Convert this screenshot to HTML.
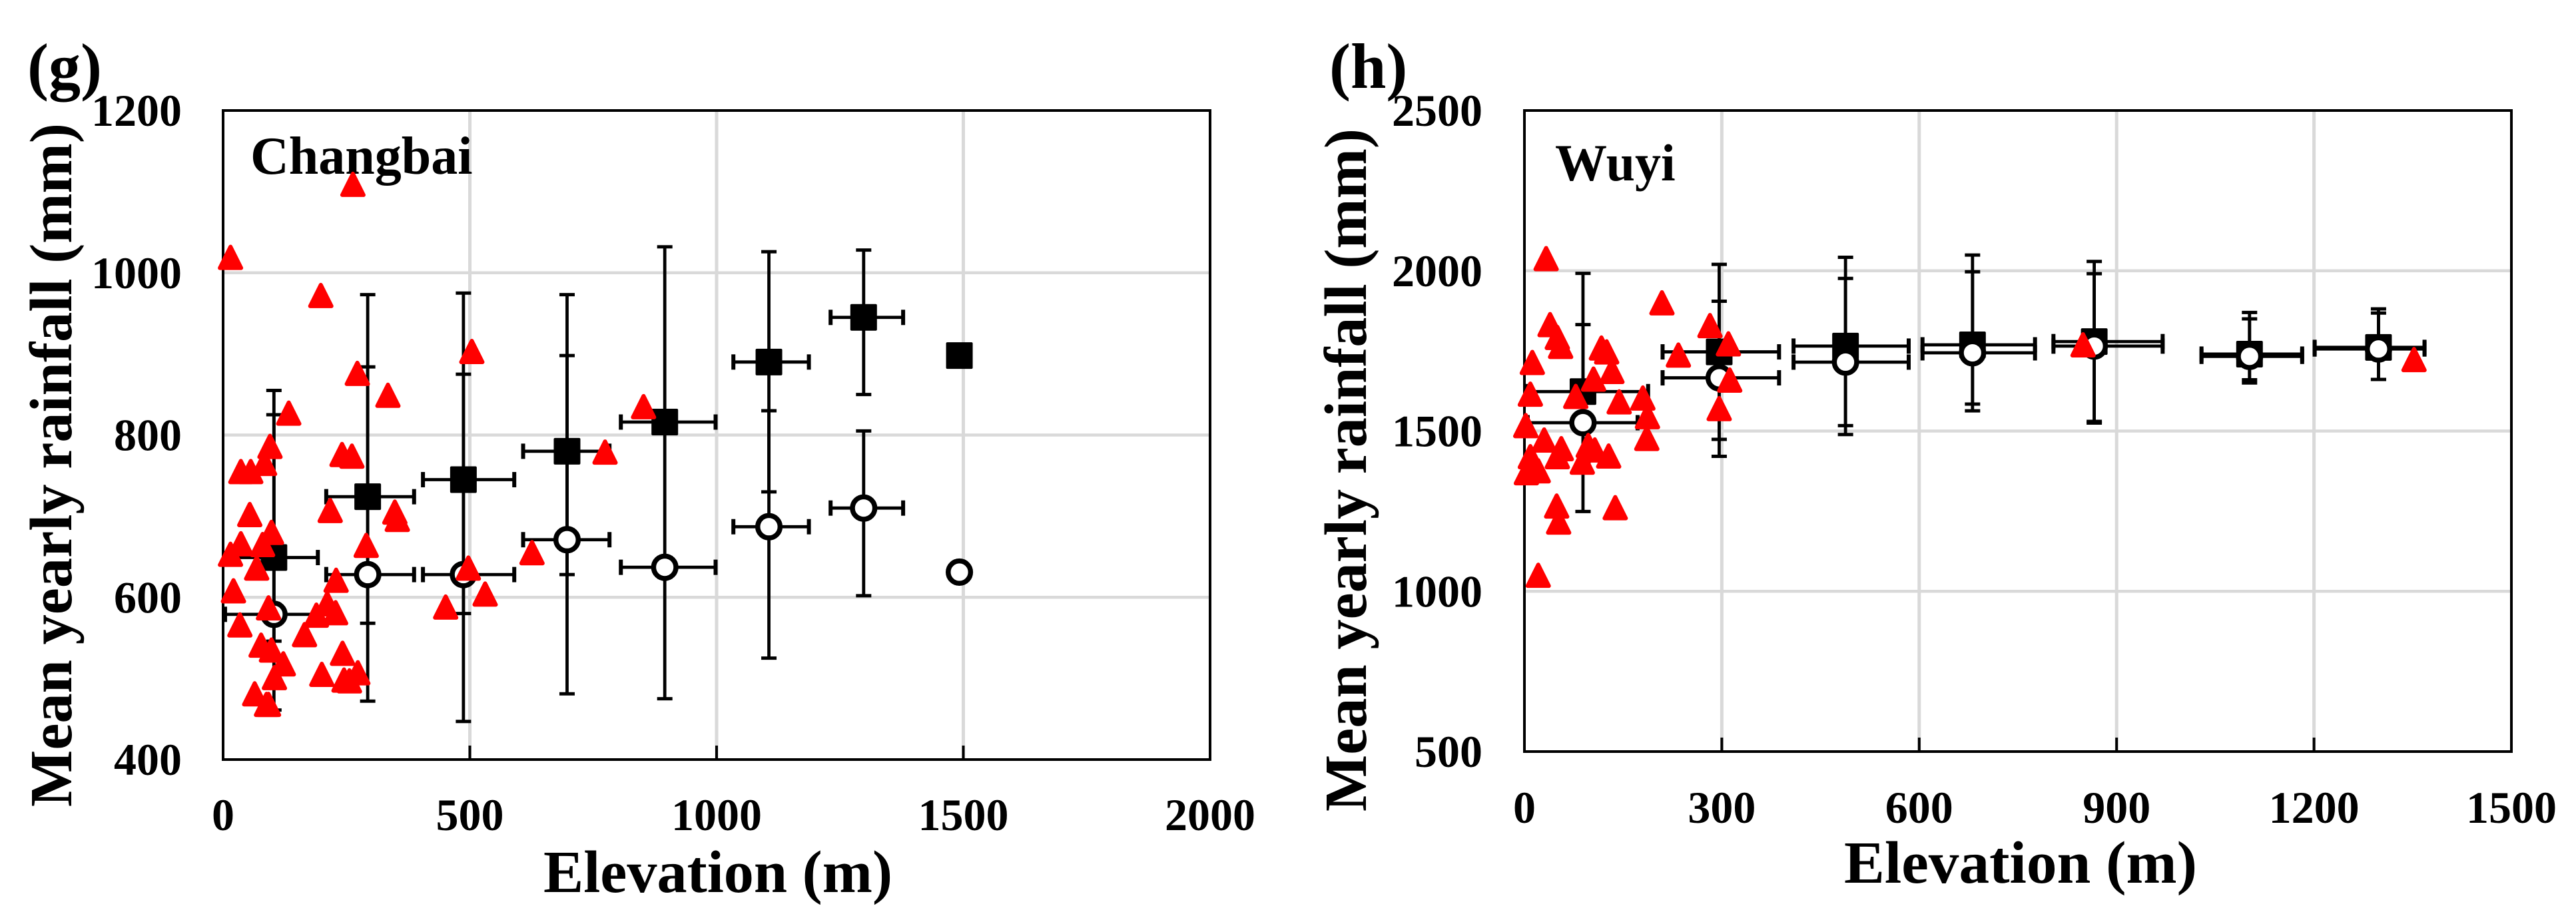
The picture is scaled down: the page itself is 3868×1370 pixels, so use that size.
<!DOCTYPE html>
<html lang="en">
<head>
<meta charset="utf-8">
<title>Mean yearly rainfall vs elevation</title>
<style>
html,body{margin:0;padding:0;background:#fff;}
svg{display:block;}
text{font-family:"Liberation Serif","Times New Roman",serif;font-weight:bold;fill:#000;}
</style>
</head>
<body>
<svg id="figure" xmlns="http://www.w3.org/2000/svg" width="3868" height="1370" viewBox="0 0 3868 1370"></svg>
<script>
/* ---------- Panel g: Changbai ---------- */
const gXTicks = [0, 500, 1000, 1500, 2000];
const gYTicks = [400, 600, 800, 1000, 1200];
const gSiteElev = [15,263,198,272,504,334,133,852,774,95,241,261,36,56,84,54,217,348,353,290,98,80,36,15,68,21,229,497,626,531,451,92,211,189,228,34,165,77,98,122,242,104,200,273,245,256,64,88,92];
const gSiteRain = [1019,1109,972,876,903,849,827,835,779,786,776,774,755,755,765,702,707,705,696,664,680,665,666,653,636,608,621,636,655,604,588,587,592,578,581,566,554,541,535,518,531,501,505,507,498,497,481,468,468];
const gBinElev = [103,293,487,697,895,1106,1298,1492];
const gBinXLow = [14,209,405,608,806,1034,1231,null];
const gBinXHigh = [192,387,590,783,998,1187,1378,null];
const gFilledRain = [649,724,745,780,816,890,945,898];
const gFilledHigh = [855,973,975,973,1032,1026,1028,null];
const gFilledLow = [461,472,447,481,475,730,850,null];
const gOpenRain = [579,628,628,671,637,687,710,631];
const gOpenHigh = [825,884,875,898,null,830,805,null];
const gOpenLow = [546,568,580,628,null,525,602,null];
const gOpenXLow = [4,209,405,608,806,1034,1231,null];
const gOpenXHigh = [192,387,590,783,998,1187,1378,null];

/* ---------- Panel h: Wuyi ---------- */
const hXTicks = [0, 300, 600, 900, 1200, 1500];
const hYTicks = [500, 1000, 1500, 2000, 2500];
const hSiteElev = [33,209,39,282,50,55,117,125,310,234,12,133,312,105,9,78,180,144,296,187,2,186,30,56,97,107,128,9,88,50,3,21,49,52,138,21,849,1352];
const hSiteRain = [2038,1900,1832,1829,1792,1764,1759,1747,1772,1737,1714,1686,1659,1662,1615,1608,1603,1591,1570,1545,1517,1477,1472,1445,1455,1441,1422,1420,1403,1420,1370,1376,1266,1216,1261,1050,1769,1723];
const hBinElev = [89,296,488,681,866,1102,1298];
const hFilledXLow = [5,210,409,605,804,1029,1201];
const hFilledXHigh = [188,387,584,776,970,1182,1368];
const hFilledRain = [1623,1747,1765,1769,1779,1740,1761];
const hFilledHigh = [1992,2020,2042,2049,2029,1870,1881];
const hFilledLow = [1249,1474,1517,1584,1530,1650,1661];
const hOpenRain = [1526,1666,1715,1744,1765,1733,1756];
const hOpenHigh = [1832,1905,1976,1997,1991,1850,1868];
const hOpenLow = [1400,1421,1489,1563,1525,1660,1661];
const hOpenXLow = [5,210,409,605,804,1029,1201];
const hOpenXHigh = [172,387,584,776,970,1182,1368];

const NS = 'http://www.w3.org/2000/svg';
const svg = document.getElementById('figure');

function mk(tag, attrs, name, parent) {
  const el = document.createElementNS(NS, tag);
  for (const k in attrs) el.setAttribute(k, attrs[k]);
  
  
  (parent || svg).appendChild(el);
  return el;
}
function txt(str, attrs, name, parent) {
  const el = mk('text', attrs, name, parent);
  el.textContent = str;
  return el;
}

function drawPanel(p) {
  const sx = v => p.left + (v - p.xTicks[0]) / (p.xTicks[p.xTicks.length - 1] - p.xTicks[0]) * (p.right - p.left);
  const sy = v => p.bottom - (v - p.yTicks[0]) / (p.yTicks[p.yTicks.length - 1] - p.yTicks[0]) * (p.bottom - p.top);
  const g = mk('g', {}, 'panel-' + p.id);

  /* grid */
  p.yTicks.slice(1, -1).forEach(t => {
    mk('line', {x1: p.left, x2: p.right, y1: sy(t), y2: sy(t), stroke: '#d9d9d9', 'stroke-width': 4.5}, 'grid-line-y-' + t, g);
  });
  p.xTicks.slice(1, -1).forEach(t => {
    mk('line', {x1: sx(t), x2: sx(t), y1: p.top, y2: p.bottom, stroke: '#d9d9d9', 'stroke-width': 5}, 'grid-line-x-' + t, g);
    mk('line', {x1: sx(t), x2: sx(t), y1: p.bottom - 21, y2: p.bottom, stroke: '#000', 'stroke-width': 4}, 'x-tick-' + t, g);
  });

  /* frame */
  mk('rect', {x: p.left, y: p.top, width: p.right - p.left, height: p.bottom - p.top, fill: 'none', stroke: '#000', 'stroke-width': 4}, 'plot-frame', g);

  /* tick labels */
  p.yTicks.forEach(t => {
    txt(String(t), {x: p.yLabelRight, y: sy(t) + 23, 'font-size': 68, 'text-anchor': 'end'}, 'y-tick-label-' + t, g);
  });
  p.xTicks.forEach(t => {
    txt(String(t), {x: sx(t), y: p.xLabelBase, 'font-size': 68, 'text-anchor': 'middle'}, 'x-tick-label-' + t, g);
  });

  /* titles */
  txt('Mean yearly rainfall (mm)', {
    transform: 'translate(' + p.yTitleX + ',' + p.yTitleBottom + ') rotate(-90)',
    'font-size': 90, textLength: p.yTitleLen, lengthAdjust: 'spacingAndGlyphs'
  }, 'y-axis-title', g);
  txt('Elevation (m)', {
    x: p.xTitleX, y: p.xTitleBase, 'font-size': 90, textLength: p.xTitleLen, lengthAdjust: 'spacingAndGlyphs'
  }, 'x-axis-title', g);
  txt(p.panelLabel, {x: p.labelX, y: 132, 'font-size': 96}, 'panel-label', g);
  txt(p.name, {x: p.nameX, y: p.nameY, 'font-size': p.nameSize}, 'region-name', g);

  /* error bars */
  function bars(series, ys, hi, lo, xlo, xhi) {
    const eg = mk('g', {stroke: '#000', fill: 'none'}, series + '-error-bars', g);
    p.binElev.forEach((xv, i) => {
      const x = sx(xv), y = sy(ys[i]);
      if (hi[i] !== null && lo[i] !== null) {
        mk('line', {x1: x, x2: x, y1: sy(hi[i]), y2: sy(lo[i]), 'stroke-width': 4.8}, series + '-y-error-bar', eg);
        mk('line', {x1: x - 11.5, x2: x + 11.5, y1: sy(hi[i]), y2: sy(hi[i]), 'stroke-width': 5}, series + '-y-error-cap-high', eg);
        mk('line', {x1: x - 11.5, x2: x + 11.5, y1: sy(lo[i]), y2: sy(lo[i]), 'stroke-width': 5}, series + '-y-error-cap-low', eg);
      }
      if (xlo[i] !== null && xhi[i] !== null) {
        mk('line', {x1: sx(xlo[i]), x2: sx(xhi[i]), y1: y, y2: y, 'stroke-width': 4.8}, series + '-x-error-bar', eg);
        mk('line', {x1: sx(xlo[i]), x2: sx(xlo[i]), y1: y - 11.5, y2: y + 11.5, 'stroke-width': 6}, series + '-x-error-cap-low', eg);
        mk('line', {x1: sx(xhi[i]), x2: sx(xhi[i]), y1: y - 11.5, y2: y + 11.5, 'stroke-width': 6}, series + '-x-error-cap-high', eg);
      }
    });
  }
  bars('filled-mean', p.filledRain, p.filledHigh, p.filledLow, p.filledXLow, p.filledXHigh);
  bars('open-mean', p.openRain, p.openHigh, p.openLow, p.openXLow, p.openXHigh);

  /* markers */
  p.binElev.forEach((xv, i) => {
    mk('rect', {x: sx(xv) - 20, y: sy(p.filledRain[i]) - 20, width: 40, height: 40, rx: 2, fill: '#000'}, 'filled-mean-marker', g);
  });
  p.binElev.forEach((xv, i) => {
    mk('circle', {cx: sx(xv), cy: sy(p.openRain[i]), r: 16.8, fill: '#fff', stroke: '#000', 'stroke-width': 7.5}, 'open-mean-marker', g);
  });
  p.siteElev.forEach((xv, i) => {
    const x = sx(xv), y = sy(p.siteRain[i]);
    const d = 'M' + x + ' ' + (y - 16) + 'L' + (x + 16) + ' ' + (y + 16) + 'L' + (x - 16) + ' ' + (y + 16) + 'Z';
    mk('path', {d: d, fill: '#f00', stroke: '#f00', 'stroke-width': 6, 'stroke-linejoin': 'round'}, 'site-triangle', g);
  });
}

drawPanel({
  id: 'g', panelLabel: '(g)', name: 'Changbai', nameX: 376, nameY: 261, nameSize: 80, labelX: 41,
  left: 335, right: 1817, top: 166, bottom: 1141, yLabelRight: 273, xLabelBase: 1247,
  yTitleX: 107, yTitleBottom: 1212, yTitleLen: 1027, xTitleX: 816, xTitleBase: 1340, xTitleLen: 524,
  xTicks: gXTicks, yTicks: gYTicks, siteElev: gSiteElev, siteRain: gSiteRain, binElev: gBinElev,
  filledRain: gFilledRain, filledHigh: gFilledHigh, filledLow: gFilledLow, filledXLow: gBinXLow, filledXHigh: gBinXHigh,
  openRain: gOpenRain, openHigh: gOpenHigh, openLow: gOpenLow, openXLow: gOpenXLow, openXHigh: gOpenXHigh
});
drawPanel({
  id: 'h', panelLabel: '(h)', name: 'Wuyi', nameX: 2335, nameY: 271, nameSize: 78, labelX: 1996,
  left: 2289, right: 3771, top: 166, bottom: 1129, yLabelRight: 2226, xLabelBase: 1236,
  yTitleX: 2051, yTitleBottom: 1219, yTitleLen: 1026, xTitleX: 2769, xTitleBase: 1326, xTitleLen: 530,
  xTicks: hXTicks, yTicks: hYTicks, siteElev: hSiteElev, siteRain: hSiteRain, binElev: hBinElev,
  filledRain: hFilledRain, filledHigh: hFilledHigh, filledLow: hFilledLow, filledXLow: hFilledXLow, filledXHigh: hFilledXHigh,
  openRain: hOpenRain, openHigh: hOpenHigh, openLow: hOpenLow, openXLow: hOpenXLow, openXHigh: hOpenXHigh
});
</script>
</body>
</html>
